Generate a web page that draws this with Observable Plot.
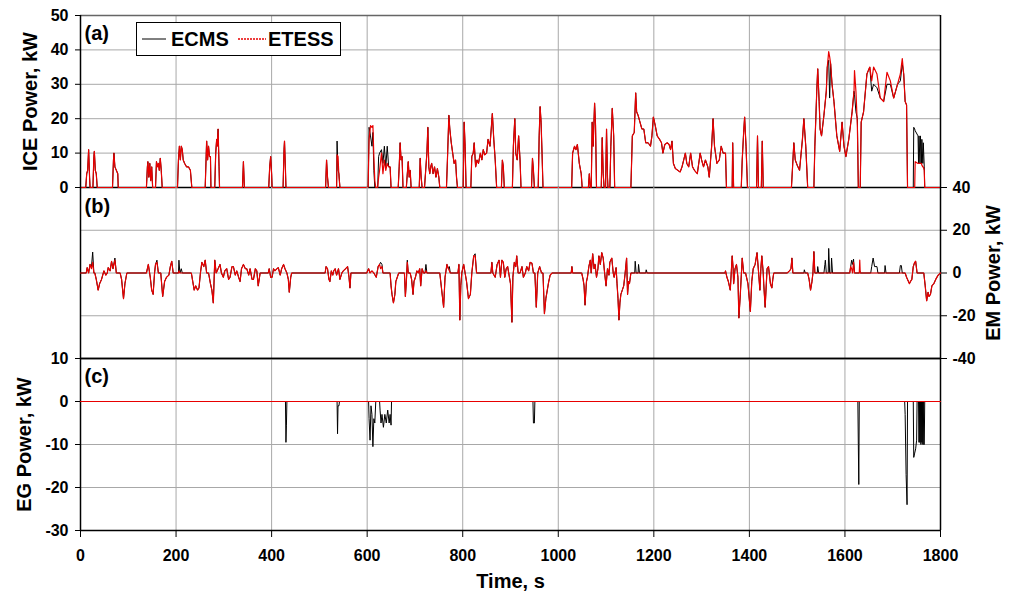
<!DOCTYPE html>
<html><head><meta charset="utf-8">
<script src="https://cdn.jsdelivr.net/npm/d3@7"></script>
<script src="https://cdn.jsdelivr.net/npm/@observablehq/plot@0.6"></script>
<style>
body{margin:0;background:#fff;}
#chart{position:relative;width:1013px;height:594px;font-family:"Liberation Sans",Arial,sans-serif;}
#chart svg{position:absolute;left:0;}
.legend{position:absolute;left:136px;top:22px;width:203px;height:32px;border:1px solid #000;background:#fff;font-weight:bold;font-size:20px;line-height:23px;color:#000;}
.legend span,.legend svg{position:absolute;}
</style></head>
<body><div id="chart"></div>
<script>
// ---- tick values ----
const xTicks = [0,200,400,600,800,1000,1200,1400,1600,1800];
const iceTicks = [0,10,20,30,40,50];
const emTicks = [-40,-20,0,20,40];
const egTicks = [-30,-20,-10,0,10];
const seriesNames = ["ECMS","ETESS"];

// ---- (a) ICE power: [time s, ECMS kW, ETESS kW] ----
const ice = [
[0,0,0],[11,0,0],[13,4,4],[15,5,5],[17,11,11],[19,3,3],[20,0,0],
[26,0,0],[28,9,9],[29,10.5,10.5],[31,5,5],[33,4,4],[35,0,0],
[67,0,0],[69,8,8],[70,10,10],[72,6,6],[75,5,5],[78,4,4],[79,0,0],
[138,0,0],[140,6,6],[141,7.5,7.5],[143,3,3],[145,7,7],[147,2,2],[149,6,6],[151,0,0],
[157,0,0],[159,7.5,7.5],[161,6,6],[163,7,7],[165,5,5],[167,8.5,8.5],[169,5,5],[171,0,0],
[203,0,0],[205,8,8],[207,12,12],[209,8,8],[211,12,12],[213,11,11],[215,8,8],[218,7,7],[222,6,6],[226,6,6],[230,5,5],[233,0,0],
[261,0,0],[263,9,9],[264,13.5,13.5],[266,8,8],[268,12,12],[270,9,9],[272,9,9],[273,0,0],
[281,0,0],[283,10,10],[285,14,14],[286,12,12],[288,17,17],[290,6,6],[291,0,0],
[339,0,0],[341,7.5,7.5],[343,0,0],
[394,0,0],[396,6,6],[398,9,9],[400,4,4],[401,0,0],
[424,0,0],[426,11,11],[427,13.5,13.5],[429,5,5],[430,0,0],
[513,0,0],[515,8,8],[517,3,3],[519,0,0],
[536,0,0],[537,13.5,9.5],[539,5,9],[541,4,3],[543,0,0],
[602,0,0],[604,17.5,14],[607,15,18],[610,12,17.5],[612,16,18],[614,5,9],[616,0,2],[618,0,0],
[622,0,0],[624,9,3],[626,10,5],[630,11,10],[633,7,4],[636,12,8],[639,6,5],[642,12,7],[645,6,6],[648,6,6],[650,0,0],
[665,0,0],[667,6,6],[669,13,13],[671,8,8],[673,9,9],[675,0,0],
[682,0,0],[684,4,4],[686,7.5,7.5],[688,3,3],[690,5,5],[692,0,0],
[709,0,0],[711,8.5,8.5],[713,3,3],[715,0,0],
[720,0,0],[722,4,4],[725,10,10],[727,17.5,17.5],[729,6,6],[731,4,4],[733,6,6],[735,7,7],[738,4,4],[741,6,6],[744,3,3],[747,5.5,5.5],[750,3,3],[752,0,0],
[766,0,0],[768,8,8],[771,21,21],[773,17,17],[776,13,13],[779,10,10],[782,7,7],[785,8,8],[787,3,3],[789,0,0],
[801,0,0],[803,19,19],[805,12,12],[807,0,0],
[817,0,0],[819,9,9],[822,10,10],[824,13,13],[827,6,6],[830,8,8],[833,7,7],[837,10,10],[840,8,8],[843,11,11],[846,9.5,9.5],[850,10,10],[853,14,14],[857,12,12],[862,21.5,21.5],[865,14,14],[868,8,8],[871,0,0],
[881,0,0],[883,8,8],[885,6,6],[887,0,0],
[904,0,0],[906,12,12],[909,20,20],[911,10,10],[914,8,8],[917,15,15],[920,8,8],[922,0,0],
[944,0,0],[946,8.5,8.5],[948,5,5],[950,0,0],
[958,0,0],[960,15,15],[962,23.5,23.5],[964,19,19],[966,10,10],[968,0,0],
[1028,0,0],[1030,10,10],[1034,12,12],[1037,11,11],[1040,12.5,12.5],[1044,7,7],[1048,4,4],[1050,0,0],
[1063,0,0],[1065,4,4],[1067,0,0],[1069,0,0],[1071,19,19],[1073,12,12],[1076,24.5,24.5],[1078,18,18],[1080,0,0],
[1090,0,0],[1092,14.5,14.5],[1094,4,4],[1096,0,0],
[1099,0,0],[1101,17,17],[1103,3,3],[1104,0,0],
[1108,0,0],[1110,12,12],[1113,23,23],[1116,15,15],[1118,0,0],
[1152,0,0],[1155,15,15],[1159,16,16],[1162,27.5,27.5],[1164,22,22],[1167,21,21],[1171,19,19],[1175,17,17],[1179,17,17],[1183,13,13],[1188,13,13],[1193,12,12],[1196,15,15],[1199,20.5,20.5],[1203,18,18],[1207,15,15],[1212,14,14],[1216,13,13],[1219,10,10],[1223,12.5,12.5],[1228,13,13],[1232,12.5,12.5],[1235,11,11],[1238,13.5,13.5],[1241,7,7],[1245,5.5,5.5],[1250,5,5],[1255,4.5,4.5],[1259,6,6],[1266,10,10],[1269,7,7],[1273,6,6],[1277,10,10],[1281,6,6],[1285,5,5],[1291,4,4],[1297,10,10],[1300,8,8],[1304,6,6],[1308,8,8],[1313,6,6],[1316,3,3],[1321,12,12],[1324,20,20],[1327,12,12],[1332,7,7],[1337,8,8],[1341,12,12],[1345,10,10],[1350,10,10],[1352,0,0],
[1364,0,0],[1365,13,13],[1367,0,0],
[1383,0,0],[1385,8,8],[1388,16,16],[1390,20.5,20.5],[1393,12,12],[1396,0,0],
[1415,0,0],[1417,15,15],[1419,0,0],
[1425,0,0],[1427,13.5,13.5],[1429,0,0],
[1488,0,0],[1490,5,5],[1493,13,13],[1496,8,8],[1500,6.5,6.5],[1505,5,5],[1511,14,14],[1514,20,20],[1518,12,12],[1522,0,0],
[1535,0,0],[1537,12,12],[1541,28,28],[1543,34.5,34.5],[1546,25,25],[1548,17,17],[1551,15,15],[1556,21,21],[1561,28,28],[1563,35,35],[1566,37,39.5],[1568,26,38],[1570,36,36],[1573,30,30],[1577,25,25],[1583,15,15],[1589,10.5,10.5],[1594,19,19],[1598,12,12],[1602,9,9],[1608,14,14],[1615,22,22],[1619,28,28],[1620,27,34],[1623,22,28],[1626,20,18],[1628,0,0],
[1632,0,0],[1634,19,19],[1639,22,22],[1646,33,33],[1652,35,35],[1656,28,31],[1660,30,35],[1667,29,33],[1674,26,26],[1681,25,25],[1688,30,33.5],[1695,30,31],[1702,26,26],[1710,30,30],[1716,31,33],[1720,36,37.5],[1723,33,33],[1726,25,25],[1729,24,24],[1731,0,0],
[1743,0,0],[1744,17.5,0],[1746,17,0],[1747,16.5,7.5],[1753,15,7],[1754,7,7],[1755,15,7],[1757,7,7],[1758,15,7],[1760,7,7],[1761,14,6.5],[1763,7,6],[1764,13,6],[1766,6,5],[1767,0,0],[1800,0,0]
];

// ---- (b) EM power: [time s, ECMS kW, ETESS kW] ----
const em = [
[0,0,0],[12,0,0],[14,2.5,2.5],[17,0,0],[20,4,4],[23,3,2],[25.5,9.8,5],[28,0,0],[30,0,0],[33,-3,-3],[37,-8,-8],[40,-5,-5],[44,-3,-3],[49,1,1],[53,-1,-1],[56,0,0],[58,2.5,2.5],[62,1,1],[65,5.5,5.5],[68,2,2],[72,7,6],[75,0,0],
[83,0,0],[86,-3,-3],[90,-12,-12],[93,-5,-5],[97,0,0],
[138,0,0],[142,4,4],[146,-2,-2],[149,-8,-8],[152,-10,-10],[155,0,0],[157,4,4],[160,6,5],[163,0,0],
[168,0,0],[172,-11,-11],[176,-4,-4],[180,-2,-2],[185,-1,-1],[188,3,3],[191,5.5,5.5],[194,0,0],
[205,0,0],[206,6,1],[208,0,0],[211,2,0],[213,0,0],
[232,0,0],[235,-4,-4],[238,-8,-8],[241,-6,-6],[245,-8,-8],[248,-7,-7],[251,0,0],[254,5,5],[258,3,3],[261,6,6],[264,0,0],
[268,0,0],[272,-5,-5],[275,-8,-8],[278,-14,-14],[281,6,6],[284,0,0],[288,2,2],[292,4,4],[295,0,0],[299,-2,-2],[302,1,1],[306,2,2],[310,-3,-3],[313,-2,-2],[317,3,3],[320,3,3],[324,-1,-1],[327,1,1],[331,-2,-2],[334,-4,-4],[337,2,2],[341,4,4],[345,2,2],[348,2,2],[352,-1,-1],[355,2,2],[359,-3,-3],[362,-3,-3],[366,2,2],[369,1,1],[372,-6,-6],[376,0,0],
[393,0,0],[395,2,2],[398,-2,-2],[401,-2,-2],[404,2,2],[407,1,1],[411,2,2],[414,2.5,2.5],[418,-1,-1],[421,2,2],[425,4,4],[428,2,2],[432,0,0],[435,-3,-3],[437,-9,-9],[440,-2,-2],[442,0,0],
[512,0,0],[514,3,3],[517,2,2],[520,-3,-3],[522,-4,-4],[525,1,1],[528,-1,-1],[530,1,1],[533,2,2],[536,-1,-1],[540,2,2],[543,-3,-3],[547,0,0],[550,1,1],[555,2,2],[559,3,3],[562,-2,-2],[564,-7,-7],[566,0,0],
[599,0,0],[603,2,2],[606,0,0],[610,1,1],[614,0,0],[619,-2,-2],[623,3,3],[626,4,4],[628,5,2],[631,4,3],[633,0,0],
[648,0,0],[650,-6,-6],[652,-10,-10],[655,-14,-14],[658,-10,-10],[660,-4,-4],[663,-2,-2],[666,0,0],
[678,0,0],[680,-11,-11],[682,-4,-4],[684,6,5],[686,0,0],[690,0,0],[693,-3,-3],[696,-10,-10],[698,-4,-4],[701,-2,-2],[704,1,1],[707,0,0],[710,2,2],[712,-6,-6],[715,2,2],[718,0,0],[721,0,0],[723,4,1],[725,0,0],
[752,0,0],[756,-8,-8],[760,-16,-16],[763,-2,-2],[767,4,4],[770,2,2],[772,3,1],[774,0,0],
[790,0,0],[792,4,4],[794,-22,-22],[796,-6,-6],[798,0,0],[802,4,4],[805,0,0],[808,-4,-4],[812,-12,-12],[816,-10,-10],[819,0,0],[823,8,8],[826,9,8],[829,0,0],
[859,0,0],[861,5,5],[863,0,0],[868,-2,-2],[872,4,4],[876,6,6],[879,-2,-2],[882,6,6],[885,5,5],[888,-2,-2],[891,2,2],[894,3,3],[897,-1,-1],[900,-5,-5],[903,-23,-23],[905,-2,-2],[908,5,5],[911,3,3],[913,8,8],[916,0,0],[920,0,0],[924,3,3],[927,-2,-2],[931,0,0],[934,3,3],[938,1,1],[941,5,5],[945,4.5,4.5],[948,0,0],
[951,0,0],[954,-16,-16],[957,0,0],[961,3,3],[965,0,0],[968,0,0],[971,-19,-19],[974,-12,-12],[977,-8,-8],[980,-4,-4],[983,-1,-1],[987,0,0],
[1027,0,0],[1028.5,3,3],[1030,0,0],
[1049,0,0],[1052,-3,-3],[1054,-6,-6],[1056,-15,-15],[1059,-4,-4],[1061,-2,-2],[1064,3,3],[1067,6,6],[1069,0,0],[1072,9,9],[1075,2,2],[1077,4,4],[1080,-2,-2],[1083,2,2],[1085,8,8],[1088,4,4],[1091,9.5,9.5],[1094,7,7],[1097,0,0],[1100,-6,-6],[1103,2,2],[1106,-1,-1],[1108,5,5],[1112,7,7],[1115,0,0],[1117,-2,-2],[1121,2.5,2.5],[1123,-5,-5],[1125,-12,-12],[1127,-22,-22],[1129,-14,-14],[1131,-10,-10],[1134,-8,-8],[1137,-6,-6],[1140,0,0],[1143,7,7],[1145,-10,-10],[1147,-4,-4],[1149,-5,-5],[1152,0,0],
[1160,0,0],[1161,5.5,0],[1163,0,0],[1167,0,0],[1168,4,0],[1170,0,0],[1183,0,0],[1184,1.5,0],[1186,0,0],
[1349,0,0],[1350,1,1],[1353,-2,-2],[1356,-4,-4],[1360,-8,-8],[1362,0,0],[1364,8,8],[1366,2,2],[1367,-5,-5],[1370,2,2],[1373,4,4],[1376,-2,-2],[1378,-21,-21],[1381,-10,-10],[1385,7,7],[1388,0,0],[1392,0,0],[1397,-5,-5],[1402,-18,-18],[1405,-4,-4],[1408,2,2],[1412,4,4],[1416,9.5,9.5],[1419,1,1],[1422,-8,-8],[1424,2,2],[1426,8,8],[1429,0,0],[1430,-5,-5],[1433,-16,-16],[1437,2,2],[1440,3,3],[1442,-1,-1],[1444,-5,-5],[1447,-7,-7],[1449,-3,-3],[1451,0,0],
[1479,0,0],[1484,1,1],[1487,2,2],[1489,7,7],[1491,0,0],
[1514,0,0],[1515,1.5,0],[1517,0,0],[1522,0,0],[1525,-3,-3],[1528,-8,-8],[1531,-4,-4],[1533,0,0],[1535,10,10],[1537,0,0],
[1542,0,0],[1543,3,0],[1545,0,0],[1556,0,0],[1558,4,0],[1559,6,0],[1561,0,0],[1565,0,0],[1566,11.5,0],[1568,0,0],[1571,0,0],[1572,7,0],[1574,0,0],
[1610,0,0],[1612,3,3],[1614,6,2],[1616,4,0],[1618,6.5,5],[1620,0,0],[1630,0,0],[1631,1,6],[1632,0,0],
[1654,0,0],[1656,3,0],[1659,7,0],[1662,3,0],[1667,3,0],[1669,0,0],[1683,0,0],[1684,3.5,0],[1686,0,0],[1714,0,0],[1716,3.5,0],[1718,3.5,0],[1720,0,0],
[1726,0,0],[1729,-2,-2],[1731,-3,-3],[1735,-5,-5],[1737,-4,-4],[1740,-3,-3],[1743,3,3],[1746,5,5],[1748,5.5,5.5],[1751,0,0],
[1765,0,0],[1768,-6,-6],[1771,-13,-13],[1774,-9,-9],[1776,-11,-11],[1779,-10,-10],[1782,-6,-6],[1786,-5,-5],[1790,-3,-3],[1795,-1,-1],[1800,0,0]
];

// ---- (c) EG power: ECMS [time s, kW]; ETESS stays at zero ----
const egEcms = [
[0,0],[429,0],[430,-9.5],[431,-5.5],[432,0],
[537,0],[538,-7.5],[539,-1],[541,-1],[542,0],
[603,0],[604,-4],[606,-9],[608,-1],[610,-3],[612,-10.5],[614,-4],[616,-5],[618,0],
[626,0],[627,-2],[629,-5],[631,-3],[634,-6],[637,-3],[640,-5],[643,-2],[646,-5],[648,-3],[650,-5.5],[651,0],
[947,0],[948,-5],[950,-5],[951,0],
[1627,0],[1628,-10],[1629,-19.3],[1630,0],
[1725,0],[1726,-3],[1728,-17],[1730,-24],[1731,0],
[1743,0],[1744,-13],[1746,-12],[1748,-11],[1750,-9],[1751,0],
[1754,0],[1755,-9.5],[1756,0],[1757,-9.5],[1758,0],[1759,-10],[1760,0],[1761,-9.5],[1762,0],[1763,-10],[1764,0],[1765,-10],[1766,-10],[1767,0],[1800,0]
];
const egEtess = [[0,0],[1800,0]];

// ---- layout ----
const W = 1013, ML = 80, MR = 73;
const FONT = '"Liberation Sans", Arial, sans-serif';
const baseStyle = {fontFamily: FONT, fontSize: "16px", fontWeight: "bold", background: "transparent", overflow: "visible", color: "#000"};
const GRID = "#a8a8a8", RED = "#e80000";
const fmt = d => String(d);
const labelText = (t, anchor, dx, dy) => Plot.text([t], {frameAnchor: anchor, dx, dy, rotate: -90, fontSize: 20, fontWeight: "bold", textAnchor: "middle", lineAnchor: "middle", fill: "#000"});
const tag = (t, dy) => Plot.text([t], {frameAnchor: "top-left", dx: 4, dy, textAnchor: "start", lineAnchor: "top", fontSize: 20, fontWeight: "bold", fill: "#000"});
const inner = xTicks.slice(1, -1);

const pa = Plot.plot({
  width: W, height: 187, marginLeft: ML, marginRight: MR, marginTop: 15, marginBottom: 0,
  style: baseStyle,
  x: {domain: [0, 1800], axis: null},
  y: {domain: [0, 50], ticks: iceTicks, tickFormat: fmt, tickSize: 5, tickPadding: 7, label: null, axis: "left"},
  marks: [
    Plot.ruleX(inner, {stroke: GRID}),
    Plot.ruleY(iceTicks.slice(1, -1), {stroke: GRID}),
    Plot.ruleY([50], {stroke: "#666", strokeWidth: 1.5}),
    Plot.ruleX([0, 1800], {stroke: "#000", strokeWidth: 1.5}),
    Plot.ruleY([0], {stroke: "#000", strokeWidth: 1.5}),
    Plot.line(ice, {x: d => d[0], y: d => d[1], stroke: "#000", strokeWidth: 1}),
    Plot.line(ice, {x: d => d[0], y: d => d[2], stroke: RED, strokeWidth: 1.2}),
    tag("(a)", 10),
    labelText("ICE Power, kW", "left", -49.5, 0)
  ]
});

const pb = Plot.plot({
  width: W, height: 171, marginLeft: ML, marginRight: MR, marginTop: 0, marginBottom: 0,
  style: baseStyle,
  x: {domain: [0, 1800], axis: null},
  y: {domain: [-40, 40], ticks: emTicks, tickFormat: fmt, tickSize: 6, tickPadding: 6, label: null, axis: "right"},
  marks: [
    Plot.ruleX(inner, {stroke: GRID}),
    Plot.ruleY(emTicks.slice(1, -1), {stroke: GRID}),
    Plot.ruleX([0, 1800], {stroke: "#000", strokeWidth: 1.5}),
    Plot.line(em, {x: d => d[0], y: d => d[1], stroke: "#000", strokeWidth: 1}),
    Plot.line(em, {x: d => d[0], y: d => d[2], stroke: RED, strokeWidth: 1.2}),
    Plot.ruleY([-40], {stroke: "#000", strokeWidth: 1.5}),
    tag("(b)", 11),
    labelText("EM Power, kW", "right", 53.5, 0)
  ]
});

const pc = Plot.plot({
  width: W, height: 236, marginLeft: ML, marginRight: MR, marginTop: 0, marginBottom: 64,
  style: baseStyle,
  x: {domain: [0, 1800], ticks: xTicks, tickFormat: fmt, tickSize: 7, tickPadding: 12, label: null, axis: "bottom"},
  y: {domain: [-30, 10], ticks: egTicks, tickFormat: fmt, tickSize: 5, tickPadding: 7, label: null, axis: "left"},
  marks: [
    Plot.ruleX(inner, {stroke: GRID}),
    Plot.ruleY(egTicks.slice(1, -1), {stroke: GRID}),
    Plot.ruleX([0, 1800], {stroke: "#000", strokeWidth: 1.5}),
    Plot.ruleY([10, -30], {stroke: "#000", strokeWidth: 1.5}),
    Plot.line(egEcms, {x: d => d[0], y: d => d[1], stroke: "#000", strokeWidth: 1}),
    Plot.line(egEtess, {x: d => d[0], y: d => d[1], stroke: RED, strokeWidth: 1.2}),
    tag("(c)", 10),
    labelText("EG Power, kW", "left", -56, 0),
    Plot.text(["Time, s"], {frameAnchor: "bottom", dy: 51, fontSize: 20, fontWeight: "bold", textAnchor: "middle", lineAnchor: "middle", fill: "#000"})
  ]
});

const chart = document.getElementById("chart");
[[pa, 0], [pb, 187], [pc, 358]].forEach(([svg, top]) => {
  svg.style.position = "absolute";
  svg.style.top = top + "px";
  svg.style.left = "0px";
  chart.appendChild(svg);
});

// legend
const lg = document.createElement("div");
lg.className = "legend";
lg.innerHTML =
  `<svg style="left:5px;top:13px" width="24" height="6"><line x1="0" x2="24" y1="3" y2="3" stroke="#000" stroke-width="1"/></svg>` +
  `<span style="left:34px;top:5px">${seriesNames[0]}</span>` +
  `<svg style="left:101px;top:13px" width="28" height="6"><line x1="0" x2="28" y1="3" y2="3" stroke="${RED}" stroke-width="1.5" stroke-dasharray="2,1"/></svg>` +
  `<span style="left:131px;top:5px">${seriesNames[1]}</span>`;
chart.appendChild(lg);
</script>
</body></html>
